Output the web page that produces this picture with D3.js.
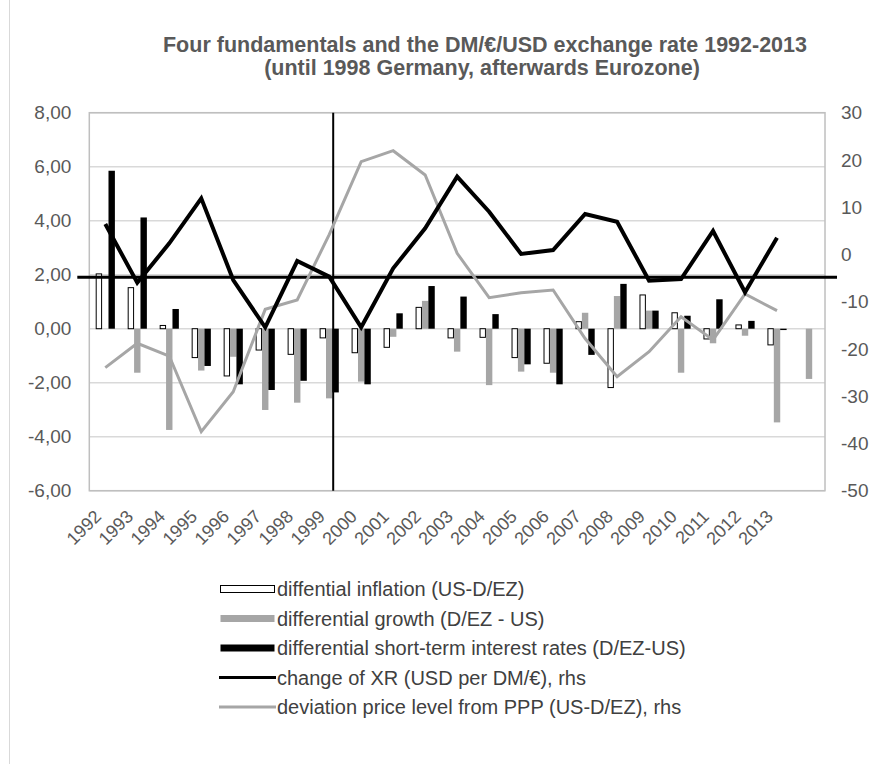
<!DOCTYPE html>
<html>
<head>
<meta charset="utf-8">
<script src="https://cdn.jsdelivr.net/npm/d3@7"></script>
<style>
  body { margin: 0; background: #fff; }
  svg { display: block; font-family: "Liberation Sans", Arial, sans-serif; }
</style>
</head>
<body>
<div id="chart"></div>
<script>
const years = ["1992", "1993", "1994", "1995", "1996", "1997", "1998", "1999", "2000", "2001", "2002",
  "2003", "2004", "2005", "2006", "2007", "2008", "2009", "2010", "2011", "2012", "2013", ""];

// lhs, percentage points
const inflation = [2.03, 1.52, 0.12, -1.07, -1.75, -0.79, -0.95, -0.34, -0.89, -0.69, 0.79,
  -0.34, -0.32, -1.07, -1.28, 0.26, -2.18, 1.25, 0.59, -0.38, 0.14, -0.6, null];
const growth = [null, -1.63, -3.75, -1.55, -1.04, -3.01, -2.74, -2.58, -1.96, -0.3, 1.03,
  -0.85, -2.09, -1.59, -1.63, 0.59, 1.21, 0.67, -1.63, -0.54, -0.26, -3.47, -1.86];
const interest = [5.85, 4.12, 0.73, -1.38, -2.06, -2.27, -1.93, -2.36, -2.06, 0.57, 1.58,
  1.19, 0.54, -1.32, -2.06, -0.97, 1.66, 0.67, 0.48, 1.09, 0.29, -0.05, null];

// rhs, percent
const xrChange = [6.44, -5.97, 2.35, 11.88, -5.41, -15.42, -1.39, -4.7, -15.42, -2.94, 5.53,
  16.46, 9.05, 0.1, 0.94, 8.56, 6.93, -5.55, -5.2, 4.96, -8.01, 3.55, null];
const pppDev = [-23.96, -18.81, -21.5, -37.5, -29.05, -11.62, -9.64, 4.2, 19.63, 21.96, 16.82,
  0.24, -9.15, -8.09, -7.52, -17.8, -25.87, -20.58, -13.17, -18.1, -8.37, -11.9, null];

const leftTicks = [8, 6, 4, 2, 0, -2, -4, -6];
const rightTicks = [30, 20, 10, 0, -10, -20, -30, -40, -50];

const barSeries = [
  { name: "diffential inflation (US-D/EZ)", values: inflation, fill: "#fff", stroke: "#000" },
  { name: "differential growth (D/EZ - US)", values: growth, fill: "#a6a6a6", stroke: "none" },
  { name: "differential short-term interest rates (D/EZ-US)", values: interest, fill: "#000", stroke: "none" },
];
const lineSeries = [
  { name: "change of XR (USD per DM/€), rhs", values: xrChange, color: "#000", width: 4 },
  { name: "deviation price level from PPP (US-D/EZ), rhs", values: pppDev, color: "#a6a6a6", width: 3 },
];

const W = 876, H = 764;
const M = { top: 112.7, right: 51, bottom: 273.3, left: 89.3 };
const TEXT = "#595959";

const svg = d3.select("#chart").append("svg").attr("width", W).attr("height", H);

svg.append("line")
  .attr("x1", 9.5).attr("x2", 9.5).attr("y1", 0).attr("y2", H)
  .attr("stroke", "#d9d9d9").attr("stroke-width", 1);

const x = d3.scaleBand().domain(years).range([M.left, W - M.right]).padding(0);
const xInner = d3.scaleBand().domain(d3.range(barSeries.length))
  .range([0, x.bandwidth() * 0.6]);
const yL = d3.scaleLinear().domain([-6, 8]).range([H - M.bottom, M.top]);
const yR = d3.scaleLinear().domain([-50, 30]).range([H - M.bottom, M.top]);

// gridlines
svg.append("g")
  .selectAll("line")
  .data(leftTicks)
  .join("line")
  .attr("x1", M.left).attr("x2", W - M.right)
  .attr("y1", (d) => yL(d)).attr("y2", (d) => yL(d))
  .attr("stroke", "#d9d9d9").attr("stroke-width", 1.5);

svg.append("rect")
  .attr("x", M.left).attr("y", M.top)
  .attr("width", W - M.left - M.right).attr("height", H - M.top - M.bottom)
  .attr("fill", "none").attr("stroke", "#bfbfbf").attr("stroke-width", 1.5);

// left axis
svg.append("g")
  .selectAll("text")
  .data(leftTicks)
  .join("text")
  .attr("x", M.left - 18)
  .attr("y", (d) => yL(d))
  .attr("dy", "0.35em")
  .attr("text-anchor", "end")
  .attr("font-size", 19)
  .attr("fill", TEXT)
  .text((d) => d.toFixed(2).replace(".", ","));

// right axis
svg.append("g")
  .selectAll("text")
  .data(rightTicks)
  .join("text")
  .attr("x", W - M.right + 16)
  .attr("y", (d) => yR(d))
  .attr("dy", "0.35em")
  .attr("font-size", 19)
  .attr("fill", TEXT)
  .text((d) => String(d));

// x labels
svg.append("g")
  .selectAll("text")
  .data(years)
  .join("text")
  .attr("transform", (d) => `translate(${x(d) + x.bandwidth() / 2 - 3},${H - M.bottom + 27}) rotate(-45)`)
  .attr("text-anchor", "end")
  .attr("font-size", 18)
  .attr("fill", TEXT)
  .text((d) => d);

// bars
const groupOffset = (x.bandwidth() - xInner.range()[1]) / 2;
barSeries.forEach((s, si) => {
  svg.append("g")
    .selectAll("rect")
    .data(s.values.map((v, i) => ({ v, year: years[i] })).filter((d) => d.v != null))
    .join("rect")
    .attr("x", (d) => x(d.year) + groupOffset + xInner(si) + (s.stroke !== "none" ? 0.5 : 0))
    .attr("width", xInner.bandwidth() - (s.stroke !== "none" ? 1 : 0))
    .attr("y", (d) => yL(Math.max(0, d.v)))
    .attr("height", (d) => Math.abs(yL(d.v) - yL(0)))
    .attr("fill", s.fill)
    .attr("stroke", s.stroke)
    .attr("stroke-width", 1);
});

// reference lines
svg.append("line")
  .attr("x1", M.left - 12).attr("x2", W - M.right + 12)
  .attr("y1", yR(-4.8)).attr("y2", yR(-4.8))
  .attr("stroke", "#000").attr("stroke-width", 3);

const vx = x("1999") + x.bandwidth() * 0.625;
svg.append("line")
  .attr("x1", vx).attr("x2", vx)
  .attr("y1", yL(8)).attr("y2", yL(-6))
  .attr("stroke", "#000").attr("stroke-width", 2);

// lines (rhs)
lineSeries.slice().reverse().forEach((s) => {
  const line = d3.line()
    .defined((d) => d.v != null)
    .x((d) => x(d.year) + x.bandwidth() / 2)
    .y((d) => yR(d.v));
  svg.append("path")
    .datum(s.values.map((v, i) => ({ v, year: years[i] })))
    .attr("d", line)
    .attr("fill", "none")
    .attr("stroke", s.color)
    .attr("stroke-width", s.width)
    .attr("stroke-linejoin", "miter");
});

// title
const title = svg.append("text")
  .attr("text-anchor", "middle")
  .attr("font-size", 21.5)
  .attr("font-weight", "bold")
  .attr("fill", TEXT);
title.append("tspan").attr("x", 485).attr("y", 52)
  .text("Four fundamentals and the DM/€/USD exchange rate 1992-2013");
title.append("tspan").attr("x", 482).attr("y", 75)
  .text("(until 1998 Germany, afterwards Eurozone)");

// legend
const legend = svg.append("g").attr("font-size", 20).attr("fill", "#404040");
const legendRows = [
  ...barSeries.map((s) => ({ ...s, kind: "bar" })),
  ...lineSeries.map((s) => ({ ...s, kind: "line" })),
];
legendRows.forEach((s, i) => {
  const ly = 589 + i * 29.5;
  if (s.kind === "bar") {
    legend.append("rect")
      .attr("x", 220.5).attr("y", ly - 3.5)
      .attr("width", 54).attr("height", 7)
      .attr("fill", s.fill)
      .attr("stroke", s.stroke)
      .attr("stroke-width", 1);
  } else {
    legend.append("line")
      .attr("x1", 219).attr("x2", 276)
      .attr("y1", ly).attr("y2", ly)
      .attr("stroke", s.color)
      .attr("stroke-width", 3);
  }
  legend.append("text")
    .attr("x", 277)
    .attr("y", ly)
    .attr("dy", "0.35em")
    .text(s.name);
});
</script>
</body>
</html>
